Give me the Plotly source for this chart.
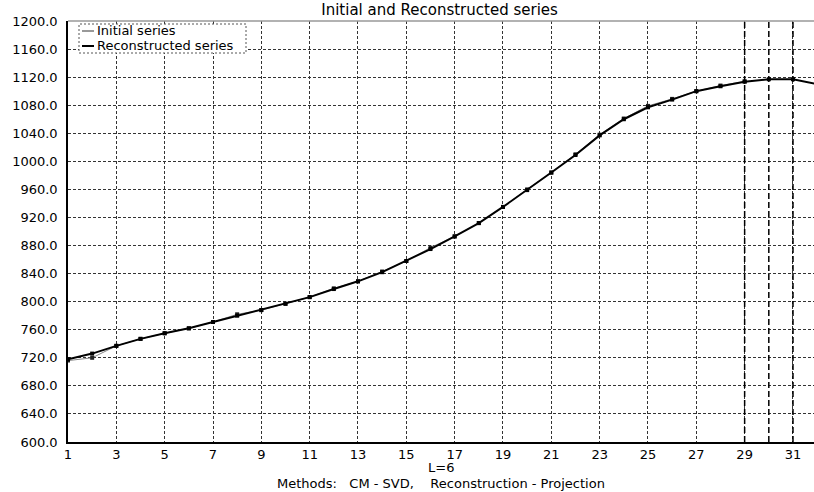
import plotly.graph_objects as go

# ---- data ----
x_initial = list(range(1, 30))
initial_series = [716, 720, 737, 747, 755, 762, 771, 782, 788, 797, 806.5, 819, 829, 843,
                  858, 877, 893, 912, 935, 960, 984, 1010, 1038, 1061, 1079, 1089, 1100,
                  1108, 1114]
x_recon = list(range(1, 33))
recon_series = [718, 726, 737, 747, 755, 762, 771, 780, 788, 797, 806.5, 818, 829, 842,
                858, 875, 893, 912, 935, 959, 984, 1009, 1037, 1060, 1077, 1088, 1100,
                1107, 1113.5, 1117, 1117, 1110]
forecast_marks = [29, 30, 31]
x_ticks = list(range(1, 32, 2))
y_ticks = list(range(600, 1201, 40))

FONT = "DejaVu Sans, sans-serif"
H_PLOT = 421.0


def py(pix):
    """pixel row -> paper y (plot spans rows 21..442)"""
    return (442 - pix) / H_PLOT


def px(pix):
    """pixel column -> paper x (plot spans columns 68..814)"""
    return (pix - 68) / 746.0


fig = go.Figure()

fig.add_trace(go.Scatter(x=x_initial, y=initial_series, mode="lines+markers",
                         line=dict(color="#888888", width=1),
                         marker=dict(symbol="square", size=4, color="#222222"),
                         name="Initial series", showlegend=False))
fig.add_trace(go.Scatter(x=x_recon, y=recon_series, mode="lines+markers",
                         line=dict(color="black", width=2),
                         marker=dict(symbol="square", size=4, color="black"),
                         name="Reconstructed series", showlegend=False))

# forecast vertical dashed lines
for xv in forecast_marks:
    fig.add_shape(type="line", xref="x", yref="paper", x0=xv, x1=xv, y0=0, y1=1,
                  line=dict(color="black", width=1.5, dash="6px,3px"))

# top border (gray)
fig.add_shape(type="line", xref="paper", yref="paper", x0=0, x1=1, y0=1, y1=1,
              line=dict(color="#999999", width=1.5))

# custom legend
fig.add_shape(type="rect", xref="paper", yref="paper", x0=px(79), x1=px(246), y0=py(53), y1=py(24),
              line=dict(color="#555555", width=1, dash="2px,2px"), fillcolor="white")
fig.add_shape(type="line", xref="paper", yref="paper", x0=px(82), x1=px(94), y0=py(31), y1=py(31),
              line=dict(color="#999999", width=2))
fig.add_shape(type="line", xref="paper", yref="paper", x0=px(82), x1=px(94), y0=py(46), y1=py(46),
              line=dict(color="black", width=2))
fig.add_annotation(xref="paper", yref="paper", x=px(95), y=py(31), text="Initial series",
                   showarrow=False, xanchor="left", yanchor="middle",
                   font=dict(family=FONT, size=13, color="black"))
fig.add_annotation(xref="paper", yref="paper", x=px(95), y=py(46), text="Reconstructed series",
                   showarrow=False, xanchor="left", yanchor="middle",
                   font=dict(family=FONT, size=13, color="black"))

# bottom text
fig.add_annotation(xref="paper", yref="paper", x=0.5, y=py(467), text="L=6",
                   showarrow=False, xanchor="center", yanchor="middle",
                   font=dict(family=FONT, size=13, color="black"))
fig.add_annotation(xref="paper", yref="paper", x=0.5, y=py(483),
                   text="Methods:\u00a0\u00a0 CM - SVD,\u00a0\u00a0\u00a0 Reconstruction - Projection",
                   showarrow=False, xanchor="center", yanchor="middle",
                   font=dict(family=FONT, size=13, color="black"))

fig.update_layout(
    width=814, height=492,
    margin=dict(l=68, r=0, t=21, b=50, autoexpand=False),
    paper_bgcolor="white", plot_bgcolor="white",
    title=dict(text="Initial and Reconstructed series", x=0.54, xanchor="center",
               y=1 - 10 / 492, yanchor="middle", yref="container",
               font=dict(family=FONT, size=15, color="black")),
    font=dict(family=FONT, size=13, color="black"),
)
fig.update_xaxes(range=[1, 31.87], tickmode="array", tickvals=x_ticks,
                 ticktext=[str(v) for v in x_ticks],
                 showgrid=True, gridcolor="#333333", griddash="3px,2px", gridwidth=1,
                 showline=True, linecolor="black", linewidth=1.5, zeroline=False,
                 ticks="", automargin=False, tickfont=dict(family=FONT, size=13, color="black"))
fig.update_yaxes(range=[600, 1200], tickmode="array", tickvals=y_ticks,
                 ticktext=[f"{v:.1f}" for v in y_ticks],
                 showgrid=True, gridcolor="#333333", griddash="3px,2px", gridwidth=1,
                 showline=True, linecolor="black", linewidth=1.5, zeroline=False,
                 ticks="", automargin=False, ticklabelstandoff=6,
                 tickfont=dict(family=FONT, size=13, color="black"))

fig.write_html("out.html", config={"displayModeBar": False},
               post_script="document.body.style.margin='0';document.body.style.overflow='hidden';")
